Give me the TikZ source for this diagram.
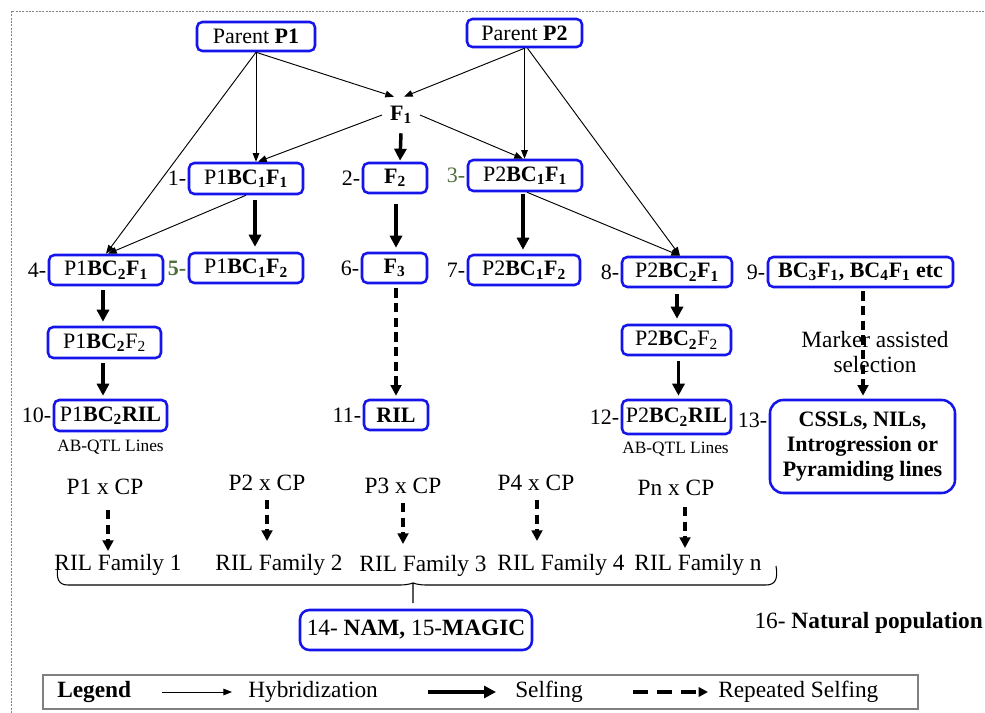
\documentclass[tikz,border=0pt]{standalone}
\usepackage{fontspec}
\setmainfont{Liberation Serif}
\usetikzlibrary{arrows.meta,calc}
\definecolor{bxblue}{RGB}{20,20,235}
\definecolor{lgreen}{RGB}{78,110,60}
\newcommand{\sbs}[1]{\textsubscript{#1}}
\begin{document}
\begin{tikzpicture}[x=0.75pt,y=-0.75pt,
  mainfont/.style={font=\fontsize{16.5}{19}\selectfont},
  freefont/.style={font=\fontsize{17.5}{20}\selectfont},
  bx/.style 2 args={draw=bxblue, line width=1.9pt, rounded corners=4pt, inner sep=0pt,
     minimum width=#1*0.75pt, minimum height=#2*0.75pt, mainfont},
  lab/.style={anchor=east, inner sep=1pt, mainfont},
  txt/.style={inner sep=0pt, freefont},
  hyb/.style={line width=0.7pt, -{Triangle[length=6.5pt,width=5pt]}},
  self/.style={line width=2.6pt, -{Triangle[length=9pt,width=9pt]}},
  rself/.style={line width=2.6pt, dash pattern=on 7pt off 4pt, -{Triangle[length=8pt,width=8pt]}},
]
\useasboundingbox (0,0) rectangle (985,713);
% outer frame
\draw[gray, line width=0.5pt, dash pattern=on 1.5pt off 1pt] (11,713) -- (11,11) -- (985,11);

% nodes
\node[bx={118}{29}] (p1) at (256,36.5) {Parent \textbf{P1}};
\node[bx={115}{28}] (p2) at (524.5,33) {Parent \textbf{P2}};
\node[inner sep=0pt, mainfont, minimum width=28pt, minimum height=27pt] (f1) at (401,115) {\textbf{F\sbs{1}}};

\node[bx={114}{31}] (b1) at (246,178.5) {P1\textbf{BC\sbs{1}F\sbs{1}}};
\node[bx={64}{30}] (b2) at (395,178) {\textbf{F\sbs{2}}};
\node[bx={114}{31}] (b3) at (525,175.5) {P2\textbf{BC\sbs{1}F\sbs{1}}};
\node[bx={114}{30}] (b4) at (106,270) {P1\textbf{BC\sbs{2}F\sbs{1}}};
\node[bx={114}{30}] (b5) at (246,268) {P1\textbf{BC\sbs{1}F\sbs{2}}};
\node[bx={65}{30}] (b6) at (394.5,268) {\textbf{F\sbs{3}}};
\node[bx={112}{30}] (b7) at (524,270) {P2\textbf{BC\sbs{1}F\sbs{2}}};
\node[bx={110}{30}] (b8) at (677,272) {P2\textbf{BC\sbs{2}F\sbs{1}}};
\node[bx={185}{30}] (b9) at (860.5,272) {\textbf{BC\sbs{3}F\sbs{1}, BC\sbs{4}F\sbs{1} etc}};
\node[bx={113}{31}] (b4b) at (104.5,342.5) {P1\textbf{BC\sbs{2}}F\sbs{2}};
\node[bx={109}{30}] (b8b) at (676.5,340) {P2\textbf{BC\sbs{2}}F\sbs{2}};
\node[bx={113}{31}] (b10) at (110.5,415.5) {P1\textbf{BC\sbs{2}RIL}};
\node[bx={64}{30}] (b11) at (396,415) {\textbf{RIL}};
\node[bx={109}{34}] (b12) at (676.5,417) {P2\textbf{BC\sbs{2}RIL}};
\node[bx={185}{93}, rounded corners=10pt, align=center,
      font=\bfseries\fontsize{16.5}{18.75}\selectfont] (b13) at (862.5,446.5)
      {CSSLs, NILs,\\Introgression or\\Pyramiding lines};
\node[bx={232}{40}, rounded corners=7pt, freefont] (b14) at (416,630) {14- \textbf{NAM,} 15-\textbf{MAGIC}};

% number labels
\node[lab] at (b1.west) {1-};
\node[lab] at (b2.west) {2-};
\node[lab, text=lgreen] at (b3.west) {3-};
\node[lab] at (b4.west) {4-};
\node[lab, text=lgreen, font=\bfseries\fontsize{16.5}{19}\selectfont] at (b5.west) {5-};
\node[lab] at (b6.west) {6-};
\node[lab] at (b7.west) {7-};
\node[lab] at (b8.west) {8-};
\node[lab] at (b9.west) {9-};
\node[lab] at (b10.west) {10-};
\node[lab] at (b11.west) {11-};
\node[lab] at (b12.west) {12-};
\node[lab] at ($(b13.west)+(0,-26)$) {13-};

\node[inner sep=0pt, font=\fontsize{13}{15}\selectfont] at ($(b10.south)+(0,15)$) {AB-QTL Lines};
\node[inner sep=0pt, font=\fontsize{13}{15}\selectfont] at ($(b12.south)+(-1,14)$) {AB-QTL Lines};

% hybridization arrows
\draw[hyb] (p1.south) -- ($(f1.north)+(-7,0)$);
\draw[hyb] (p2.south) -- ($(f1.north)+(3,0)$);
\draw[hyb] (p1.south) -- (p1.south |- b1.north);
\draw[hyb] (p1.south) -- (b4.north);
\draw[hyb] (f1.west) -- ($(b1.north)+(12,0)$);
\draw[hyb] (f1.east) -- ($(b3.north)+(-2,0)$);
\draw[hyb] (p2.south) -- (p2.south |- b3.north);
\draw[hyb] ($(p2.south)+(3,0)$) -- ($(b8.north)+(3,0)$);
\draw[hyb] (b1.south) -- ($(b4.north)+(2,0)$);
\draw[hyb] ($(b3.south)+(2,0)$) -- ($(b8.north)+(3,0)$);

% selfing arrows
\draw[self] (f1.south) -- ($(b2.north)+(5,-1)$);
\draw[self] ($(b2.south)+(1,10)$) -- ($(b6.north)+(1.5,-4)$);
\draw[self] ($(b1.south)+(9,5)$) -- ($(b5.north)+(9,-5)$);
\draw[self] ($(b3.south)+(-2,2)$) -- ($(b7.north)+(-1,-4)$);
\draw[self] ($(b4.south)+(-3,4)$) -- ($(b4b.north)+(-1.5,-4)$);
\draw[self] ($(b4b.south)+(-1.5,4)$) -- ($(b10.north)+(-7.5,-3)$);
\draw[self] ($(b8.south)+(0,6)$) -- ($(b8b.north)+(0.5,-5)$);
\draw[self] ($(b8b.south)+(2,5)$) -- ($(b12.north)+(2,-3)$);

% repeated selfing
\draw[rself] ($(b6.south)+(1.5,4)$) -- ($(b11.north)+(0,-3)$);
\draw[rself] ($(b9.south)+(2.5,3)$) -- ($(b13.north)+(0.5,-3)$);
\node[txt, align=center, font=\fontsize{17.5}{18.75}\selectfont] at (875,352.5) {Marker assisted\\selection};

% crosses and RIL families
\node[txt] (c1) at (105,487) {P1 x CP};
\node[txt] (c2) at (267,483) {P2 x CP};
\node[txt] (c3) at (403,486) {P3 x CP};
\node[txt] (c4) at (536,483) {P4 x CP};
\node[txt] (c5) at (676,488) {Pn x CP};
\node[txt] (r1) at (118,565) {RIL Family 1};
\node[txt] (r2) at (279,565) {RIL Family 2};
\node[txt] (r3) at (423,566) {RIL Family 3};
\node[txt] (r4) at (561,565) {RIL Family 4};
\node[txt] (r5) at (698,565) {RIL Family n};
\draw[rself] ($(c1)+(3,23)$) -- ($(r1)+(-10,-14)$);
\draw[rself] ($(c2)+(0,17)$) -- ($(r2)+(-12,-24)$);
\draw[rself] ($(c3)+(0,17)$) -- ($(r3)+(-20,-22)$);
\draw[rself] ($(c4)+(1,17)$) -- ($(r4)+(-24,-24)$);
\draw[rself] ($(c5)+(9,19)$) -- ($(r5)+(-13,-17)$);

% brace
\draw[line width=0.8pt]
  (58,566) .. controls (56,578) and (58,585) .. (68,585) -- (400,585)
  .. controls (408,585) and (413,583) .. (413,583)
  .. controls (413,590) and (413,596) .. (413,603);
\draw[line width=0.8pt]
  (776,566) .. controls (778,578) and (776,585) .. (766,585) -- (426,585)
  .. controls (418,585) and (413,583) .. (413,583);

% natural population
\node[txt, anchor=east] at (983,623) {16- \textbf{Natural population}};

% legend
\draw[gray, line width=0.9pt] (43,675) rectangle (918,709);
\node[txt, font=\bfseries\fontsize{17.5}{20}\selectfont, anchor=west] (lg) at (57,692) {Legend};
\coordinate (la1) at (162,692);
\coordinate (la2) at (232,692);
\draw[hyb] (la1) -- (la2);
\node[txt, anchor=west] at (248,692) {Hybridization};
\coordinate (lb1) at (428,692);
\coordinate (lb2) at (496,692);
\draw[self] (lb1) -- (lb2);
\node[txt, anchor=west] at (515,692) {Selfing};
\coordinate (lc1) at (633,692);
\coordinate (lc2) at (708,692);
\draw[line width=2.6pt, dash pattern=on 11pt off 7pt, -{Triangle[length=7pt,width=7pt]}] (lc1) -- (lc2);
\node[txt, anchor=west] at (718,692) {Repeated Selfing};
\end{tikzpicture}
\end{document}
